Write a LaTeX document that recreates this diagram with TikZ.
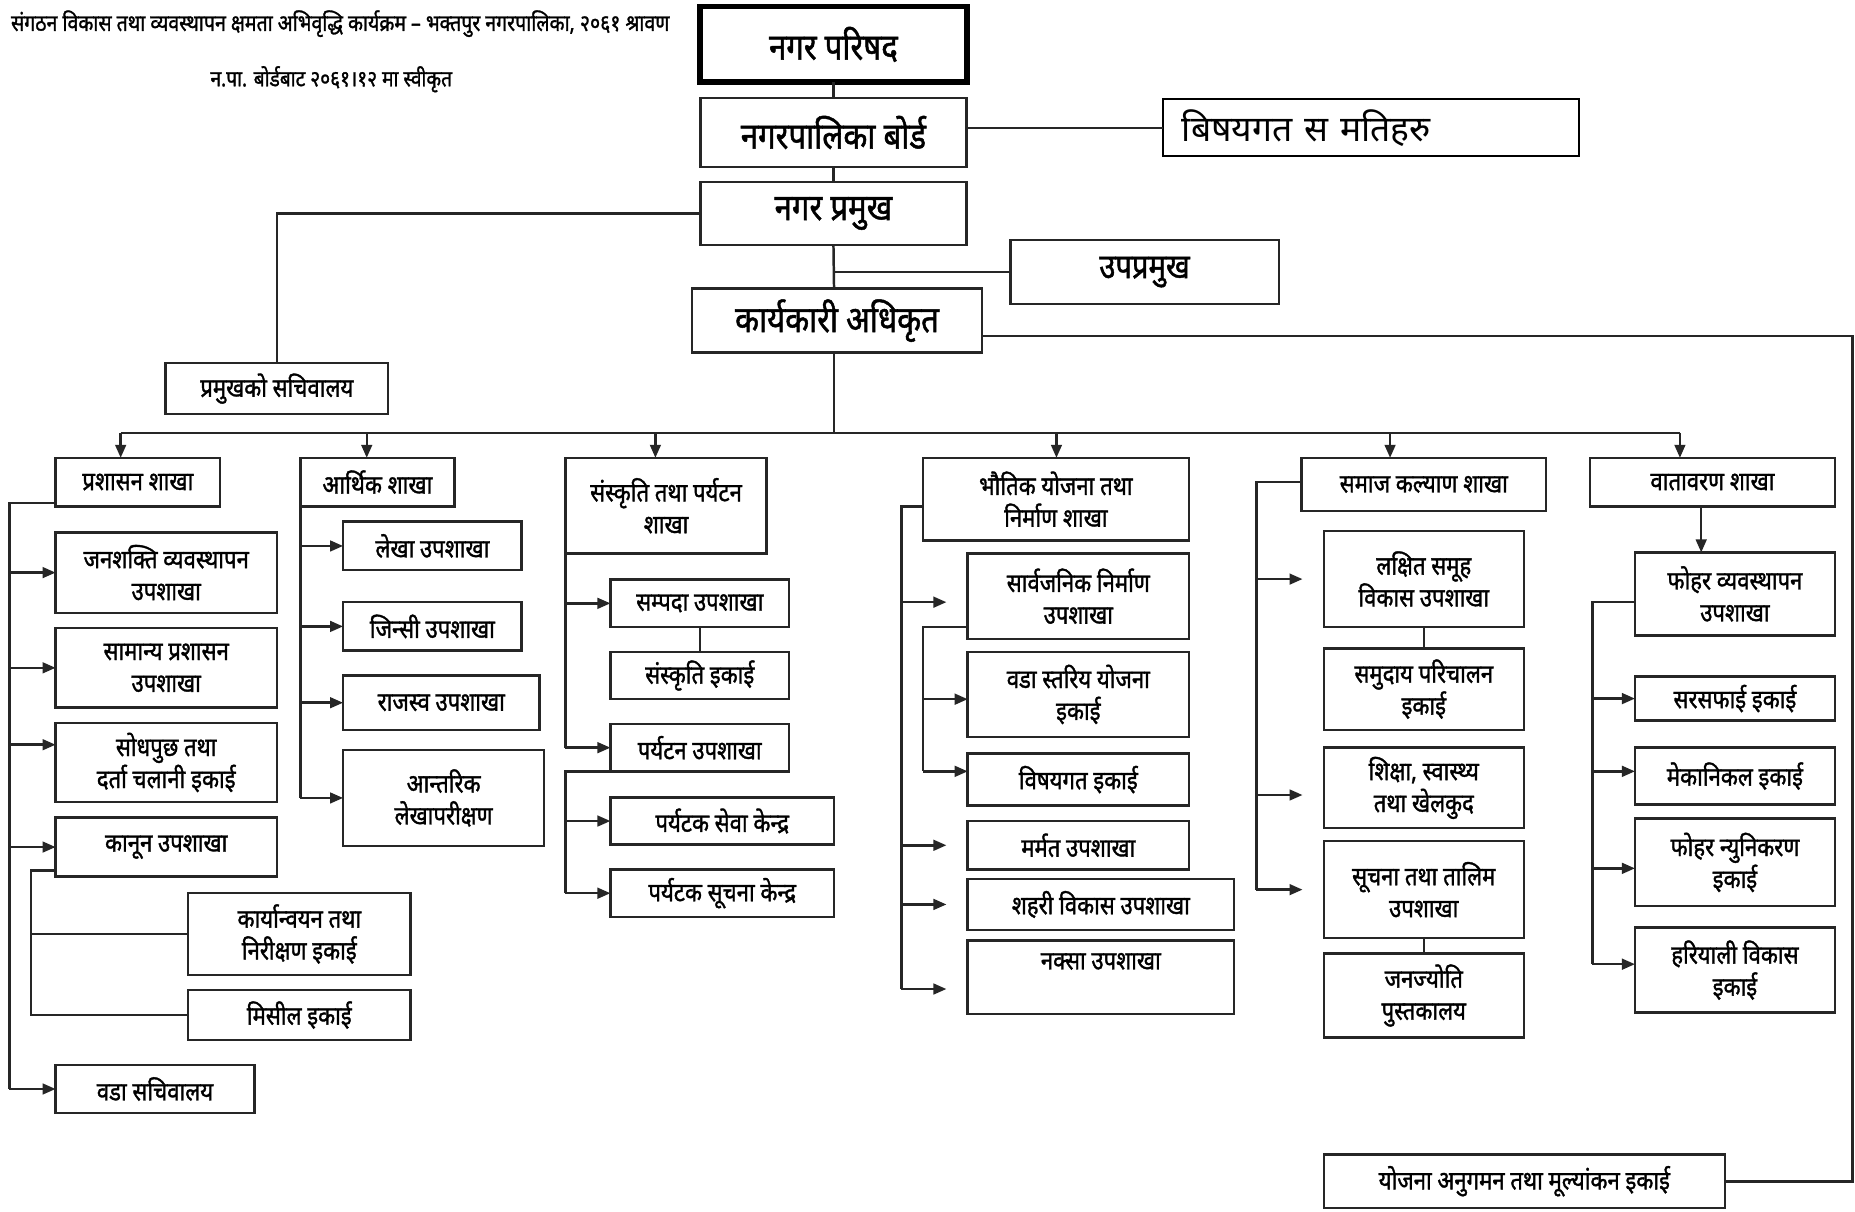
\documentclass[tikz,border=0pt]{standalone}
\usepackage{fontspec}
\usetikzlibrary{arrows.meta,calc}
\newfontfamily\dev[Script=Devanagari]{Noto Sans}
\newfontfamily\devc[Script=Devanagari,FakeStretch=0.85,FakeBold=1.3]{Noto Sans}
\newcommand\bx[7][]{\node[box,anchor=north west,minimum width={(#5)-(#3)},minimum height={(#6)-(#4)},#1] (#2) at (#3,#4) {#7};}
\begin{document}
\begin{tikzpicture}[x=1pt,y=-1pt,
  ln/.style={draw=black!85,line width=2.1pt},
  arr/.style={ln,-{Triangle[length=11pt,width=9pt]}},
  sarr/.style={arr,shorten >=18pt},
  box/.style={draw=black!85,line width=2.1pt,fill=white,inner sep=0pt,outer sep=0pt,align=center,font=\devc\fontsize{22}{27}\selectfont},
  big/.style={font=\devc\fontsize{31}{34}\selectfont},
]
\useasboundingbox (0,0) rectangle (1568,1024);
\clip (0,0) rectangle (1568,1024);
\fill[white] (0,0) rectangle (1568,1024);

% titles
\node[font=\devc\fontsize{19.4}{22}\selectfont,anchor=east,inner sep=0pt] (t1) at (566,20) {संगठन विकास तथा व्यवस्थापन क्षमता अभिवृद्धि कार्यक्रम – भक्तपुर नगरपालिका, २०६१ श्रावण};
\node[font=\devc\fontsize{19}{21}\selectfont,inner sep=0pt] (t2) at (280,67) {न.पा. बोर्डबाट २०६१।१२ मा स्वीकृत};

% top boxes
\bx[line width=5pt,draw=black,font=\devc\fontsize{31}{33}\selectfont]{parishad}{591.5}{5.5}{817.5}{69.5}{नगर परिषद}
\bx[big]{board}{592}{83}{817}{141}{नगरपालिका बोर्ड}
\bx[draw=black,line width=1.5pt,inner xsep=16pt,text width=320pt,align=left,font=\dev\fontsize{30}{32}\selectfont]{samiti}{983}{84}{1335}{132}{बिषयगत स मतिहरु}
\bx[big]{pramukh}{592}{154}{817}{207}{नगर प्रमुख}
\bx[big,font=\devc\fontsize{29}{32}\selectfont]{upa}{854}{203}{1081}{257}{उपप्रमुख}
\bx[big]{kaa}{585}{244}{830}{298}{कार्यकारी अधिकृत}
\bx{sach}{140}{307}{328}{350}{प्रमुखको सचिवालय}

% branches
\bx{b1}{47}{387}{186}{428}{प्रशासन शाखा}
\bx{b2}{254}{387}{384}{428}{आर्थिक शाखा}
\bx{b3}{478}{387}{648}{468}{संस्कृति तथा पर्यटन\\शाखा}
\bx{b4}{780}{387}{1005}{457}{भौतिक योजना तथा\\निर्माण शाखा}
\bx{b5}{1100}{387}{1307}{432}{समाज कल्याण शाखा}
\bx{b6}{1344}{387}{1551}{428}{वातावरण शाखा}

% column 1
\bx{c1a}{47}{450}{234}{518}{जनशक्ति व्यवस्थापन\\उपशाखा}
\bx{c1b}{47}{531}{234}{598}{सामान्य प्रशासन\\उपशाखा}
\bx{c1c}{47}{611}{234}{678}{सोधपुछ तथा\\दर्ता चलानी इकाई}
\bx{c1d}{47}{691}{234}{741}{कानून उपशाखा}
\bx{c1e}{159}{755}{347}{824}{कार्यान्वयन तथा\\निरीक्षण इकाई}
\bx{c1f}{159}{837}{347}{879}{मिसील इकाई}
\bx{c1g}{47}{900}{215}{941}{वडा सचिवालय}

% column 2
\bx{c2a}{290}{441}{441}{482}{लेखा उपशाखा}
\bx{c2b}{290}{509}{441}{550}{जिन्सी उपशाखा}
\bx{c2c}{290}{571}{456}{617}{राजस्व उपशाखा}
\bx{c2d}{290}{634}{460}{715}{आन्तरिक\\लेखापरीक्षण}

% column 3
\bx{c3a}{516}{490}{667}{530}{सम्पदा उपशाखा}
\bx{c3b}{516}{551}{667}{591}{संस्कृति इकाई}
\bx{c3c}{516}{612}{667}{652}{पर्यटन उपशाखा}
\bx{c3d}{516}{674}{705}{714}{पर्यटक सेवा केन्द्र}
\bx{c3e}{516}{735}{705}{775}{पर्यटक सूचना केन्द्र}

% column 4
\bx{c4a}{818}{468}{1005}{540}{सार्वजनिक निर्माण\\उपशाखा}
\bx{c4b}{818}{551}{1005}{623}{वडा स्तरिय योजना\\इकाई}
\bx{c4c}{818}{637}{1005}{681}{विषयगत इकाई}
\bx{c4d}{818}{694}{1005}{735}{मर्मत उपशाखा}
\bx{c4e}{818}{743}{1043}{786}{शहरी विकास उपशाखा}
\bx{c4f}{818}{795}{1043}{857}{नक्सा उपशाखा\\\mbox{}}

% column 5
\bx{c5a}{1119}{449}{1288}{530}{लक्षित समूह\\विकास उपशाखा}
\bx{c5b}{1119}{548}{1288}{617}{समुदाय परिचालन\\इकाई}
\bx{c5c}{1119}{632}{1288}{700}{शिक्षा, स्वास्थ्य\\तथा खेलकुद}
\bx{c5d}{1119}{711}{1288}{793}{सूचना तथा तालिम\\उपशाखा}
\bx{c5e}{1119}{806}{1288}{877}{जनज्योति\\पुस्तकालय}

% column 6
\bx{c6a}{1382}{467}{1551}{537}{फोहर व्यवस्थापन\\उपशाखा}
\bx{c6b}{1382}{572}{1551}{609}{सरसफाई इकाई}
\bx{c6c}{1382}{632}{1551}{680}{मेकानिकल इकाई}
\bx{c6d}{1382}{692}{1551}{766}{फोहर न्युनिकरण\\इकाई}
\bx{c6e}{1382}{784}{1551}{856}{हरियाली विकास\\इकाई}

\bx{yojana}{1119}{976}{1458}{1021}{योजना अनुगमन तथा मूल्यांकन इकाई}

% ---- connectors: top
\coordinate (spine) at (705,0);
\coordinate (busL) at (102,366);
\coordinate (busR) at (1420,366);
\draw[ln] (parishad.south) -- (board.north);
\draw[ln] (board.south) -- (pramukh.north);
\draw[ln] (pramukh.south) -- (spine |- kaa.north);
\draw[ln] (spine |- upa.west) -- (upa.west);
\draw[ln] (spine |- kaa.south) -- (spine |- busL);
\draw[ln] (busL) -- (busR);
\draw[ln] (board.east |- samiti.west) -- (samiti.west);
\draw[ln] (pramukh.west) -| (sach.north);
\coordinate (rt) at (1566,284);
\draw[ln] (kaa.east |- rt) -- (rt) |- (yojana.east);

\foreach \n/\x in {b1/102,b2/310,b3/554,b4/893,b5/1175,b6/1420}{
  \coordinate (d\n) at (\x,366);
  \draw[arr] (d\n) -- (d\n |- \n.north);
}

% column 1
\coordinate (v1) at (8,0);
\coordinate (b1o) at ([yshift=3pt]b1.south west);
\draw[ln] (b1o) -| (v1 |- c1g.west);
\coordinate (c1cin) at ([yshift=15pt]c1c.west);
\foreach \n in {c1a,c1b,c1cin,c1d,c1g}{ \draw[arr] (v1 |- \n) -- (\n); }
\coordinate (v1b) at (26,0);
\coordinate (kd) at ([yshift=5pt]c1d.south west);
\draw[ln] (kd) -| (v1b |- c1f.west) -- (c1f.west);
\draw[ln] (v1b |- c1e.west) -- (c1e.west);

% column 2
\coordinate (v2) at (254,0);
\draw[ln] (b2.south west) -- (v2 |- c2d.west);
\foreach \n in {c2a,c2b,c2c,c2d}{ \draw[arr] (v2 |- \n.west) -- (\n.west); }

% column 3
\coordinate (v3) at (478,0);
\draw[ln] (b3.south west) -- (v3 |- c3c.west);
\draw[arr] (v3 |- c3a.west) -- (c3a.west);
\draw[arr] (v3 |- c3c.west) -- (c3c.west);
\draw[ln] (c3a.south) -- (c3b.north);
\draw[ln] (c3c.south west) -| (v3 |- c3e.west);
\draw[arr] (v3 |- c3d.west) -- (c3d.west);
\draw[arr] (v3 |- c3e.west) -- (c3e.west);

% column 4
\coordinate (v4) at (762,0);
\coordinate (b4o) at ([yshift=-6pt]b4.west);
\coordinate (c4ain) at ([yshift=-5pt]c4a.west);
\coordinate (c4fin) at ([yshift=-10pt]c4f.west);
\draw[ln] (b4o) -| (v4 |- c4fin);
\foreach \n in {c4ain,c4d.west,c4e.west,c4fin}{ \draw[sarr] (v4 |- \n) -- (\n); }
\coordinate (v4b) at (780,0);
\coordinate (c4ao) at ([yshift=10pt]c4a.south west);
\coordinate (c4bin) at ([yshift=-4pt]c4b.west);
\coordinate (c4cin) at ([yshift=7pt]c4c.west);
\draw[ln] (c4ao) -| (v4b |- c4cin);
\draw[arr] (v4b |- c4bin) -- (c4bin);
\draw[arr] (v4b |- c4cin) -- (c4cin);

% column 5
\coordinate (v5) at (1062,0);
\coordinate (b5o) at ([yshift=2pt]b5.west);
\coordinate (c5cin) at ([yshift=-6pt]c5c.west);
\draw[ln] (b5o) -| (v5 |- c5d.west);
\foreach \n in {c5a.west,c5cin,c5d.west}{ \draw[sarr] (v5 |- \n) -- (\n); }
\draw[ln] (c5a.south) -- (c5b.north);
\draw[ln] (c5d.south) -- (c5e.north);

% column 6
\coordinate (a6) at (1438,0);
\draw[arr] (a6 |- b6.south) -- (a6 |- c6a.north);
\coordinate (v6) at (1346,0);
\coordinate (c6ao) at ([yshift=-7pt]c6a.west);
\coordinate (c6cin) at ([yshift=4pt]c6c.west);
\coordinate (c6din) at ([yshift=-5pt]c6d.west);
\coordinate (c6ein) at ([yshift=5pt]c6e.west);
\draw[ln] (c6ao) -| (v6 |- c6ein);
\foreach \n in {c6b.west,c6cin,c6din,c6ein}{ \draw[arr] (v6 |- \n) -- (\n); }
\end{tikzpicture}
\end{document}
